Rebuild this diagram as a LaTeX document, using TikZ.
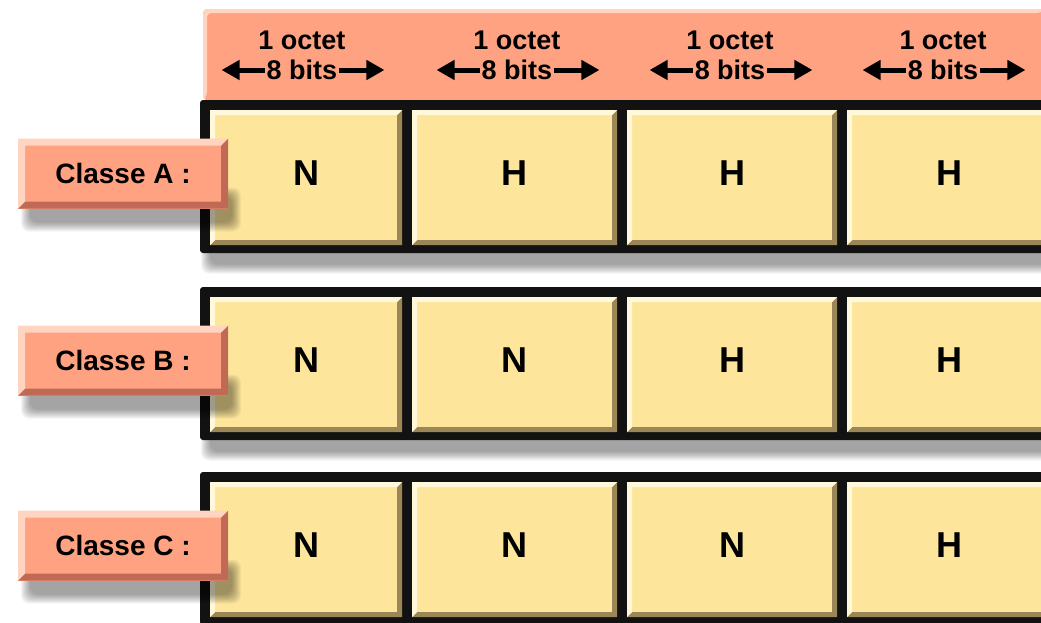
\documentclass[tikz,border=0pt]{standalone}
\usepackage{fontspec}
\setmainfont{Liberation Sans}
\usetikzlibrary{arrows.meta,calc}
\definecolor{Salmon}{HTML}{FFA282}
\definecolor{SalmonLight}{HTML}{FFD4C0}
\definecolor{SalmonDark}{HTML}{C06A55}
\definecolor{Cell}{HTML}{FDE69C}
\definecolor{CellLight}{HTML}{FFF8DA}
\definecolor{CellDark}{HTML}{9A8656}
\definecolor{Frame}{HTML}{121212}

% soft shadow from stacked transparent rectangles
\newcommand\softshadow[4]{%
  \foreach \k in {0,...,9}
    \fill[black,opacity=0.045,rounded corners=8pt] (#1-\k,#2-\k) rectangle (#3+\k,#4+\k);}

\begin{document}
\begin{tikzpicture}[x=1pt,y=-1pt,
  every node/.style={inner sep=0pt,font=\fontsize{27}{27}\selectfont\bfseries},
  bevel/.style n args={3}{path picture={
    \coordinate (bsw) at (path picture bounding box.south west);
    \coordinate (bne) at (path picture bounding box.north east);
    \fill[#2] (bsw) -- (bsw -| bne) -- (bne) -- ($(bne)+(-#3,-#3)$)
      -- ($(bsw -| bne)+(-#3,#3)$) -- ($(bsw)+(#3,#3)$) -- cycle;
    \fill[#1] (bsw) -- (bsw |- bne) -- (bne) -- ($(bne)+(-#3,-#3)$)
      -- ($(bsw |- bne)+(#3,-#3)$) -- ($(bsw)+(#3,#3)$) -- cycle;}},
  header/.style={fill=Salmon,minimum width=842pt,minimum height=91pt,
    rounded corners=4pt,bevel={SalmonLight}{Salmon}{4pt}},
  frame/.style={fill=Frame,rounded corners=3pt,minimum width=850pt,minimum height=153pt},
  cell/.style={fill=Cell,minimum width=#1,minimum height=135pt,text depth=8pt,
    bevel={CellLight}{CellDark}{5pt},font=\fontsize{36}{36}\selectfont\bfseries},
  classbox/.style={fill=Salmon,minimum width=210pt,minimum height=70pt,
    bevel={SalmonLight}{SalmonDark}{7pt},font=\fontsize{28}{28}\selectfont\bfseries},
  bitarrow/.style={-{Triangle[length=18pt,width=19pt]},line width=5pt,shorten <=2pt}
]
\clip (0,0) rectangle (1041,622);

% octet header
\node[header] (head) at (624,54.5) {};
\foreach \c/\x in {1/302,2/517,3/730,4/943} {
  \node (octet\c) at (\x,40) {1 octet};
  \node (bits\c) at (\x,70) {8 bits};
  \coordinate (arrL\c) at ($(bits\c.west)+(-45pt,0)$);
  \coordinate (arrR\c) at ($(bits\c.east)+(47pt,0)$);
  \draw[bitarrow] (bits\c.west) -- (arrL\c);
  \draw[bitarrow] (bits\c.east) -- (arrR\c);
}

% classes
\foreach \r/\y/\a/\b/\cc/\d in {A/176.5/N/H/H/H,B/363.5/N/N/H/H,C/548.5/N/N/N/H} {
  \softshadow{210}{\y+70}{1060}{\y+88}
  \node[frame] (row\r) at (625,\y) {};
  \node[cell=192pt] (\r1) at (306,\y+1) {\a};
  \node[cell=205pt] (\r2) at (514.5,\y+1) {\b};
  \node[cell=210pt] (\r3) at (732,\y+1) {\cc};
  \node[cell=205pt] (\r4) at (949.5,\y+1) {\d};
  \softshadow{30}{\y+20}{232}{\y+46}
  \node[classbox] (class\r) at (123,\y-3) {Classe \r{} :};
}
\end{tikzpicture}
\end{document}
